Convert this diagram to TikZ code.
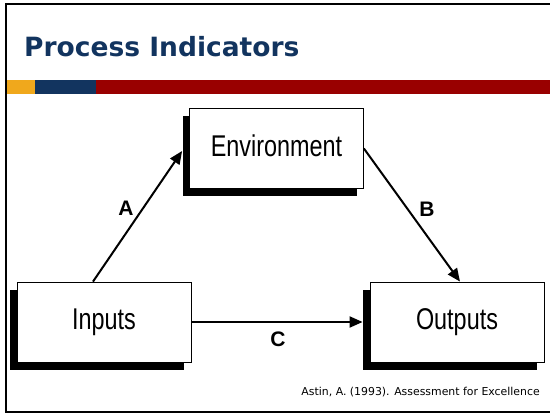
\documentclass[tikz,border=0pt]{standalone}
\usepackage{fontspec}
\setmainfont{Liberation Sans}
\newfontfamily\titlefont{DejaVu Sans}
\newfontfamily\boxfont[FakeStretch=0.78]{Liberation Sans}
\usetikzlibrary{arrows.meta,shadows,calc}
\definecolor{navy}{HTML}{12345F}
\definecolor{baryellow}{HTML}{F0A81C}
\definecolor{barred}{HTML}{990000}
\tikzset{
  blk/.style={draw=black, line width=0.8pt, fill=white, minimum width=174pt,
    minimum height=80pt, inner sep=0pt, text height=21.5pt, text depth=6pt,
    font=\boxfont\fontsize{30}{32}\selectfont,
    drop shadow={shadow xshift=-7pt, shadow yshift=-8pt, fill=black, opacity=1, draw=none}},
  arr/.style={line width=2pt, -{Triangle[length=13pt,width=11pt]}},
  lbl/.style={font=\bfseries\fontsize{21}{24}\selectfont, inner sep=0pt}
}
\begin{document}
\begin{tikzpicture}[x=1pt,y=-1pt]
\useasboundingbox (0,0) rectangle (550,414);
\clip (0,0) rectangle (550,414);
\fill[white] (0,0) rectangle (550,414);
\fill[baryellow] (7,80) rectangle (35,94);
\fill[navy] (35,80) rectangle (96,94);
\fill[barred] (96,80) rectangle (552,94);
\draw[line width=2pt] (560,4) -- (6,4) -- (6,412) -- (560,412);
\node[anchor=base west, text=navy, inner sep=0pt, font=\titlefont\bfseries\fontsize{26.5}{30}\selectfont] (title) at (24,57) {Process Indicators};

\node[blk] (env) at (276.5,148.5) {Environment};
\node[blk] (in) at (104,322) {Inputs};
\node[blk] (out) at (457,322) {Outputs};

\draw[arr] ([xshift=-11pt]in.north) -- ([xshift=-7pt,yshift=-2.5pt]env.west);
\draw[arr] (env.east) -- ([xshift=3pt]out.north);
\draw[arr] (in.east) -- ([xshift=-7pt]out.west);

\node[lbl] (la) at (126,208) {A};
\node[lbl] (lb) at (427,209) {B};
\node[lbl] (lc) at (278,339) {C};

\node[anchor=base east, inner sep=0pt, font=\titlefont\fontsize{10.9}{12}\selectfont] (cite) at (540,396) {Astin, A. (1993). Assessment for Excellence};
\end{tikzpicture}
\end{document}
